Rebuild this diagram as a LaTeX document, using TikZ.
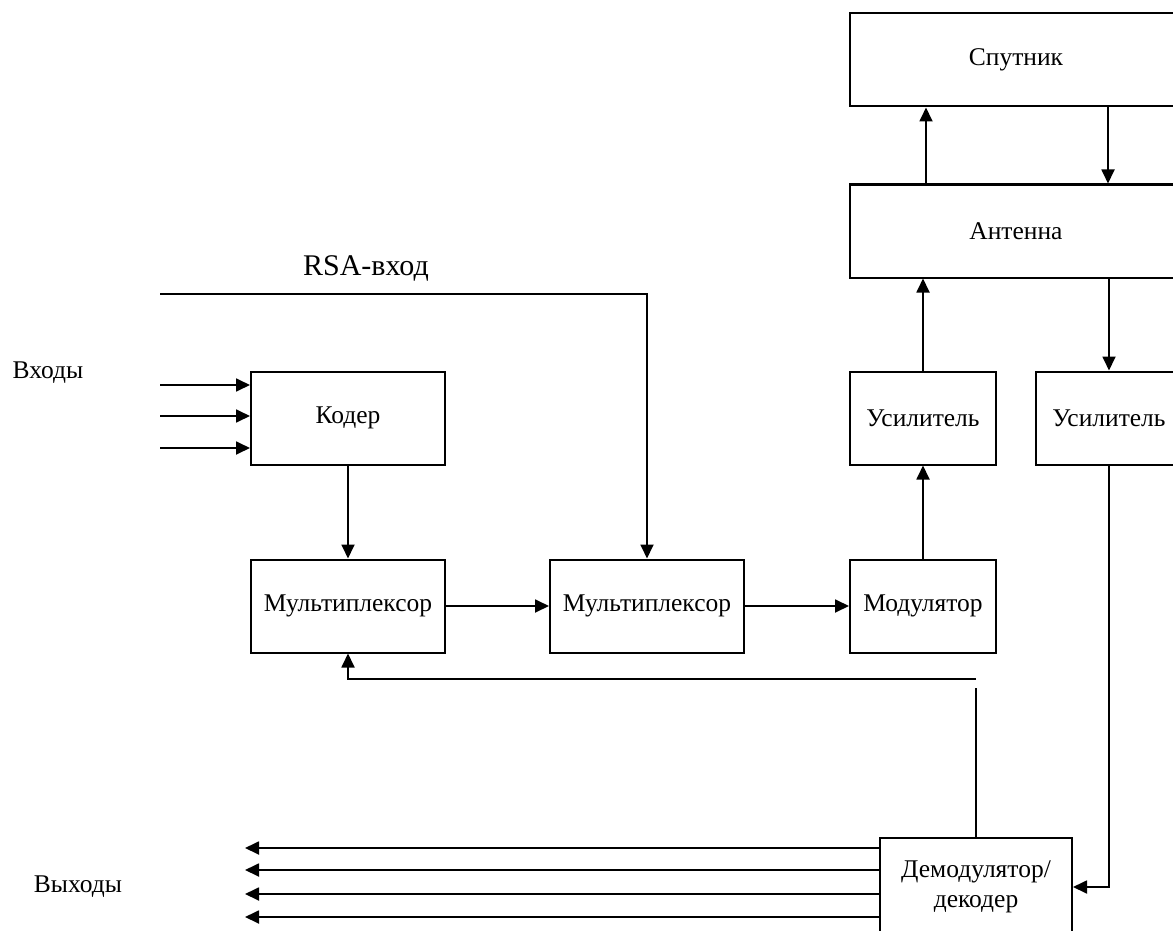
\documentclass[tikz,border=0pt]{standalone}
\usepackage{fontspec}
\setmainfont{Liberation Serif}
\usetikzlibrary{arrows.meta,positioning}

\begin{document}
\begin{tikzpicture}[x=0.5pt,y=-0.5pt,->,>={Triangle[length=7pt,width=6.5pt]},
                    line width=0.9pt,
                    font=\fontsize{12.75pt}{15pt}\selectfont]

  \tikzset{block/.style={rectangle,draw,-,line width=1pt,align=center,
                         minimum width=97pt,minimum height=46.5pt},
           amp/.style={block,minimum width=73pt},
           wide/.style={block,minimum width=166pt}}

  \useasboundingbox (0,0) rectangle (1173,931);

  \node[block] (coder) at (348,418)              {Кодер};
  \node[block] (mux1)  [below=46.5pt of coder]   {Мультиплексор};
  \node[block] (mux2)  [right=51.5pt of mux1]    {Мультиплексор};
  \node[amp]   (mod)   [right=52pt of mux2]      {Модулятор};
  \node[amp]   (ampA)  [above=46.5pt of mod]     {Усилитель};
  \node[amp]   (ampB)  [right=19pt of ampA]      {Усилитель};
  \node[wide]  (ant)   [above=46pt of ampA.north west,anchor=south west] {Антенна};
  \node[wide]  (sat)   [above=38pt of ant]       {Спутник};
  \node[block,minimum width=96pt,minimum height=49pt] (demod) at (976,887)
        {Демодулятор/\\декодер};

  \node (inlbl)  at (48,373)  {Входы};
  \node (outlbl) at (78,887)  {Выходы};
  \node[font=\fontsize{15pt}{17pt}\selectfont] (rsalbl) at (366,268) {RSA-вход};

  % inputs and outputs
  \foreach \y/\n in {385/1,416/2,448/3} {
    \coordinate (in\n) at (160,\y);
    \draw (in\n) -- (in\n -| coder.west);
  }
  \foreach \y/\n in {848/1,870/2,894/3,917/4} {
    \coordinate (out\n) at (245,\y);
    \draw (out\n -| demod.west) -- (out\n);
  }

  \coordinate (rsa) at (160,294);
  \draw (rsa) -| (mux2.north);

  \draw (coder) -- (mux1);
  \draw (mux1) -- (mux2);
  \draw (mux2) -- (mod);
  \draw (mod) -- (ampA);
  \draw (ampA.north) -- (ampA.north |- ant.south);
  \draw ([xshift=-45pt]ant.north) -- ([xshift=-45pt]sat.south);
  \draw ([xshift=46pt]sat.south) -- ([xshift=46pt]ant.north);
  \draw (ampB.north |- ant.south) -- (ampB.north);
  \draw (ampB.south) |- (demod.east);

  % feedback to the first multiplexer
  \coordinate[above=74.5pt of demod.north] (fbA);
  \coordinate[above=4.5pt of fbA] (fbB);
  \draw[-] (demod.north) -- (fbA);
  \draw (fbB) -| (mux1.south);
\end{tikzpicture}
\end{document}
